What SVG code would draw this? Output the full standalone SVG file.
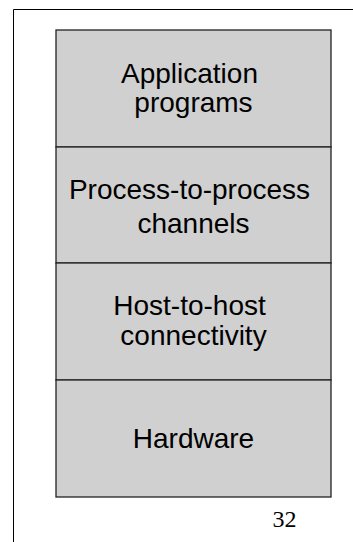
<svg xmlns="http://www.w3.org/2000/svg" width="353" height="542" viewBox="0 0 353 542">
<style>
.layer rect{fill:#d0d0d0;stroke:#222;stroke-width:1.3}
.lbl{font-family:"Liberation Sans",Arial,sans-serif;font-size:28px;fill:#000;text-anchor:middle}
.pg{font-family:"Liberation Serif","Times New Roman",serif;font-size:24px;fill:#000}
.frame{stroke:#000;stroke-width:1;fill:none}
</style>
<rect width="353" height="542" fill="#fff"/>
<path class="frame" d="M13.5 542V9.5H353"/>
<g id="application" class="layer">
<rect x="56" y="30" width="275" height="117"/>
<text class="lbl" x="189.5" y="82.5">Application</text>
<text class="lbl" x="193.5" y="112">programs</text>
</g>
<g id="process" class="layer">
<rect x="56" y="147" width="275" height="116"/>
<text class="lbl" x="189.5" y="199">Process-to-process</text>
<text class="lbl" x="193.5" y="232.5">channels</text>
</g>
<g id="host" class="layer">
<rect x="56" y="263" width="275" height="117"/>
<text class="lbl" x="189.5" y="315">Host-to-host</text>
<text class="lbl" x="193.5" y="345">connectivity</text>
</g>
<g id="hardware" class="layer">
<rect x="56" y="380" width="275" height="117"/>
<text class="lbl" x="193.5" y="448">Hardware</text>
</g>
<g id="connectors"></g>
<text class="pg" x="272.5" y="527">32</text>
</svg>
